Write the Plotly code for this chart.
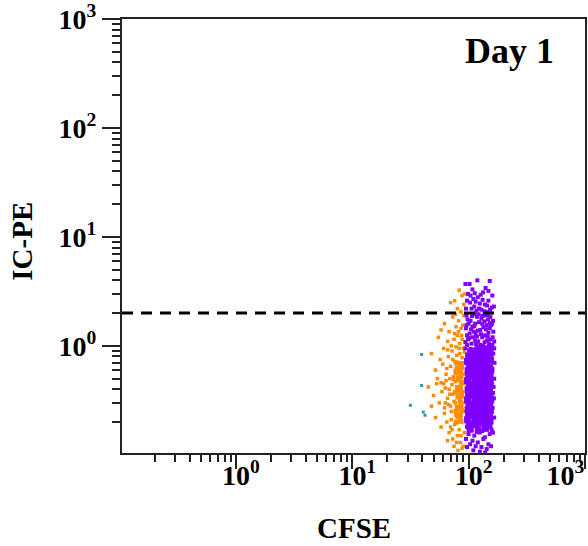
import plotly.graph_objects as go

# ---- gated populations (CFSE vs IC-PE), Day 1 ----
# dividing cells, dense body
purple_core_cfse = [
    100, 112, 125, 139, 152,
    98, 111, 124, 137, 154,
    101, 113, 123, 140, 151,
    99, 110, 126, 138, 155,
    100, 112, 124, 139, 153,
    98, 113, 125, 137, 152,
    101, 111, 123, 140, 154,
    99, 112, 126, 138, 151,
    100, 110, 124, 139, 153,
    98, 113, 125, 137, 155,
    101, 111, 123, 140, 152,
    99, 112, 126, 138, 154,
    100, 110, 124, 139, 151,
    98, 113, 125, 137, 153,
    101, 111, 123, 140, 150,
    104, 118, 133, 147,
    103, 121, 140,
]
purple_core_icpe = [
    0.81, 0.79, 0.80, 0.82, 0.78,
    0.72, 0.73, 0.71, 0.72, 0.74,
    0.65, 0.64, 0.66, 0.65, 0.64,
    0.59, 0.60, 0.58, 0.59, 0.60,
    0.53, 0.54, 0.53, 0.52, 0.54,
    0.48, 0.47, 0.49, 0.48, 0.47,
    0.435, 0.44, 0.43, 0.435, 0.44,
    0.395, 0.39, 0.40, 0.395, 0.39,
    0.355, 0.36, 0.35, 0.355, 0.36,
    0.32, 0.325, 0.32, 0.315, 0.32,
    0.29, 0.29, 0.295, 0.29, 0.285,
    0.26, 0.265, 0.26, 0.26, 0.255,
    0.235, 0.235, 0.24, 0.23, 0.235,
    0.21, 0.215, 0.21, 0.21, 0.205,
    0.19, 0.19, 0.195, 0.19, 0.185,
    0.88, 0.91, 0.93, 0.89,
    0.172, 0.168, 0.175,
]

# dividing cells, outlying events
purple_cfse = [
    96, 104, 118, 131, 147, 95, 108, 115, 126, 139, 152, 161, 99, 106, 121, 133,
    144, 157, 94, 110, 128, 150, 166, 102, 113, 136, 143, 123, 97, 159, 118, 142,
    163, 100, 131, 109, 150, 126, 94, 166,
    98, 107, 114, 122, 129, 137, 146, 154, 162, 96, 105, 112, 120, 134, 148, 156,
    101, 114, 128, 137, 146, 154, 160, 97, 104, 116, 124, 136, 147, 158, 111, 141,
    118, 152, 131,
    95, 103, 112, 120, 129, 138, 148, 158, 99, 108, 117, 133, 145, 160, 94, 102,
    119, 152, 125, 165, 110, 140,
    97, 106, 115, 123, 132, 144, 153, 104, 127, 148, 113, 137,
    97, 106, 118, 131, 146, 158, 100, 112, 124, 138, 152, 95, 108, 120, 134, 148,
    103, 115, 129, 143, 156, 110, 125, 139, 97, 162,
    163, 167, 160, 166, 164, 165, 161, 166, 158, 162,
]
purple_icpe = [
    1.9, 1.7, 1.85, 1.6, 1.75, 1.45, 1.5, 1.3, 1.4, 1.25, 1.45, 1.2, 1.15, 1.05, 1.1, 1.0,
    1.12, 0.98, 0.95, 0.92, 0.9, 0.88, 0.95, 1.3, 1.95, 1.9, 1.55, 1.65, 1.25, 1.6, 0.97, 0.93,
    1.35, 1.6, 1.2, 1.2, 1.05, 1.02, 1.08, 1.1,
    1.75, 1.88, 1.6, 1.95, 1.78, 1.68, 1.92, 1.85, 1.7, 1.55, 1.42, 1.52, 1.38, 1.48, 1.32, 1.55,
    1.18, 1.12, 1.28, 1.08, 1.22, 1.15, 1.02, 1.02, 0.94, 1.04, 0.95, 0.97, 0.98, 0.92, 1.35, 1.42,
    1.22, 1.62, 1.88,
    2.2, 2.5, 2.3, 2.8, 2.15, 2.4, 2.6, 2.25, 3.0, 3.3, 2.1, 3.1, 2.05, 2.9, 3.7, 3.7,
    4.0, 3.95, 2.45, 2.3, 2.7, 3.4,
    2.6, 2.2, 2.55, 2.2, 2.65, 2.35, 2.15, 2.9, 2.95, 3.2, 3.05, 2.08,
    0.18, 0.17, 0.175, 0.165, 0.18, 0.17, 0.155, 0.15, 0.16, 0.145, 0.155, 0.14, 0.135, 0.13, 0.14, 0.125,
    0.125, 0.12, 0.118, 0.113, 0.12, 0.11, 0.107, 0.105, 0.118, 0.16,
    0.85, 0.7, 0.6, 0.5, 0.42, 0.33, 0.27, 0.22, 0.75, 0.37,
]

# undivided cells, dense column
orange_core_cfse = [79, 86, 80, 87, 78, 85, 81, 86, 87, 80, 85, 78, 86, 81, 87, 85, 80, 86, 78, 87, 81, 85, 79, 86]
orange_core_icpe = [0.70, 0.69, 0.63, 0.64, 0.57, 0.58, 0.51, 0.52, 0.465, 0.415, 0.42, 0.375, 0.38, 0.34, 0.345,
                    0.31, 0.275, 0.28, 0.25, 0.255, 0.225, 0.23, 0.20, 0.205]

# undivided cells, outlying events
orange_cfse = [
    83, 88, 76, 91, 80, 70, 86, 93,
    62, 68, 73, 78, 82, 87, 91, 75, 84, 66, 58, 89, 71, 80, 93, 55, 77, 86,
    48, 52, 57, 61, 64, 67, 70, 72, 74, 76, 79, 81, 83, 85, 88, 90, 92, 60, 66, 54, 69, 87, 93, 78,
    45, 50, 53, 56, 59, 62, 64, 66, 68, 70, 72, 73, 75, 77, 79, 81, 90, 92, 48, 58, 63, 71, 74, 67,
    52, 58, 62, 65, 68, 71, 73, 76, 78, 80, 83, 85, 87, 90, 92, 75, 81, 88, 66, 70,
    82, 88, 76, 90, 84, 77, 73, 82, 76, 69, 84, 77, 65, 61, 89, 91, 86, 79, 72, 63,
]
orange_icpe = [
    3.25, 2.9, 2.6, 2.4, 2.2, 2.5, 2.05, 3.0,
    1.6, 1.35, 1.85, 1.5, 1.7, 1.25, 1.9, 1.15, 1.05, 1.1, 1.4, 1.55, 1.0, 1.25, 1.1, 1.2, 1.95, 1.45,
    0.85, 0.6, 0.75, 0.95, 0.55, 0.8, 0.65, 0.9, 0.52, 0.72, 0.82, 0.58, 0.95, 0.67, 0.78, 0.55, 0.88, 0.68,
    0.92, 0.5, 0.5, 0.6, 0.7, 0.98,
    0.42, 0.35, 0.45, 0.3, 0.38, 0.27, 0.48, 0.33, 0.4, 0.28, 0.44, 0.36, 0.31, 0.47, 0.26, 0.39, 0.45, 0.3,
    0.28, 0.46, 0.41, 0.25, 0.49, 0.29,
    0.22, 0.18, 0.24, 0.2, 0.16, 0.21, 0.14, 0.19, 0.23, 0.15, 0.17, 0.13, 0.2, 0.12, 0.16, 0.12, 0.11, 0.115,
    0.135, 0.18,
    1.35, 1.15, 1.3, 0.95, 0.85, 0.6, 0.75, 0.48, 0.38, 0.36, 0.26, 0.3, 0.62, 0.45, 0.38, 0.25, 0.15, 0.13,
    0.17, 0.3,
]

# low-CFSE events
teal_cfse = [39.5, 39.5, 31.6, 40.8, 42.2]
teal_icpe = [0.834, 0.433, 0.285, 0.247, 0.231]

# IC-PE positivity gate
gate_icpe = 2.0

# axis ranges (log10 units) and decade labels
x_range = [-0.98, 3.001]
y_range = [-0.983, 3.001]
decades = [1, 10, 100, 1000]
decade_text = ["10<sup>0</sup>", "10<sup>1</sup>", "10<sup>2</sup>", "10<sup>3</sup>"]
minor_vals = [m * 10 ** e for e in range(-1, 3) for m in range(2, 10)]

# the last CFSE decade label sits inside the figure's right edge
x_tick_text = decade_text[:-1] + [decade_text[-1] + "\u00a0" * 7]

PURPLE = "#8000ff"
ORANGE = "#ff8c00"
TEAL = "#2f9c9c"
SERIF = "Liberation Serif"

fig = go.Figure()


def dots(x, y, color, size):
    fig.add_trace(go.Scatter(
        x=x, y=y, mode="markers", showlegend=False, hoverinfo="skip",
        marker=dict(symbol="square", size=size, color=color, line=dict(width=0)),
    ))


dots(teal_cfse, teal_icpe, TEAL, 3)
dots(orange_cfse, orange_icpe, ORANGE, 3.5)
dots(orange_core_cfse, orange_core_icpe, ORANGE, 5)
dots(purple_cfse, purple_icpe, PURPLE, 4)
dots(purple_core_cfse, purple_core_icpe, PURPLE, 7)

# dashed gate line across the full plot width
fig.add_trace(go.Scatter(
    x=[10 ** x_range[0], 10 ** x_range[1]], y=[gate_icpe, gate_icpe],
    mode="lines", showlegend=False, hoverinfo="skip",
    line=dict(color="black", width=3, dash="11px,8px"),
))

tick_font = dict(family=SERIF, size=28, color="black", weight="bold")
axis_common = dict(
    type="log", showgrid=False, zeroline=False, automargin=False,
    showline=True, mirror=True, linecolor="#222", linewidth=2,
    tickmode="array", tickvals=decades,
    ticks="outside", tickcolor="#222", tickwidth=2,
    tickfont=tick_font, ticklabeloverflow="allow",
)

fig.update_xaxes(
    range=x_range, ticktext=x_tick_text, ticklen=14, ticklabelshift=5, ticklabelstandoff=-18,
    **axis_common,
    minor=dict(tickmode="array", tickvals=minor_vals, ticks="outside",
               ticklen=7, tickwidth=1.5, tickcolor="#222", showgrid=False),
)
fig.update_yaxes(
    range=y_range, ticktext=decade_text, ticklen=18, **axis_common,
    minor=dict(tickmode="array", tickvals=minor_vals, ticks="outside",
               ticklen=8, tickwidth=1.5, tickcolor="#222", showgrid=False),
)

title_font = dict(family=SERIF, size=29, color="black", weight="bold")
fig.add_annotation(text="CFSE", xref="paper", yref="paper", x=0.5, y=-0.173,
                   xanchor="center", yanchor="middle", showarrow=False, font=title_font)
fig.add_annotation(text="IC-PE", xref="paper", yref="paper", x=-0.215, y=0.488,
                   xanchor="center", yanchor="middle", textangle=-90, showarrow=False, font=title_font)
fig.add_annotation(text="Day 1", xref="paper", yref="paper", x=0.937, y=0.926,
                   xanchor="right", yanchor="middle", showarrow=False,
                   font=dict(family=SERIF, size=36, color="black", weight="bold"))

fig.update_layout(
    width=588, height=546,
    margin=dict(l=122, r=3, t=19, b=93),
    paper_bgcolor="white", plot_bgcolor="white",
)

fig.write_html("out.html")
